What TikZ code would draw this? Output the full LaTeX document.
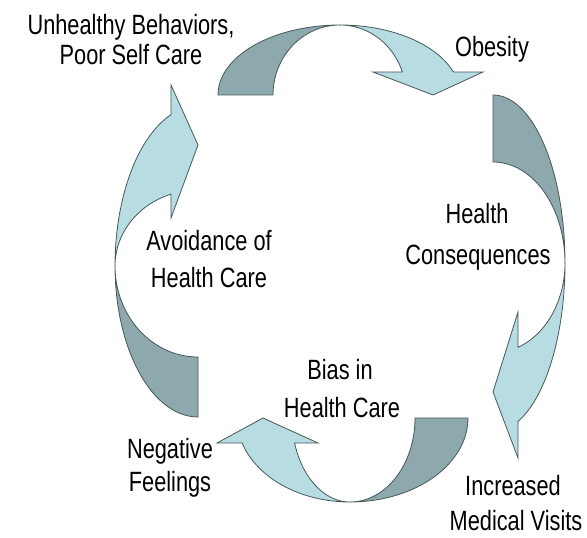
\documentclass[tikz,border=0pt]{standalone}
\usepackage{fontspec}
\setmainfont[FakeStretch=0.78]{Liberation Sans}
\definecolor{darkband}{RGB}{141,169,173}
\definecolor{lightband}{RGB}{183,221,227}
\definecolor{bandedge}{RGB}{72,88,90}
\tikzset{
  darkpart/.style={fill=darkband, draw=bandedge, line width=0.8bp, line join=round},
  lightpart/.style={fill=lightband, draw=bandedge, line width=0.8bp, line join=miter},
  lbl/.style={inner sep=0pt, anchor=base, font=\fontsize{28}{30}\selectfont}
}
% Twisted curved arrow in a local frame: x runs along the arrow, y points outward.
% #1 outer radius (back), #2 outer radius (front), #3 inner radius (back),
% #4 inner radius (front), #5 height, #6 head base height,
% #7 inner barb, #8 outer barb, #9 tip position
\newcommand\ribbonarrow[9]{%
  \pgfmathsetmacro\headang{asin(#6/#5)}%
  \filldraw[darkpart]
    plot[domain=180:90, samples=40, variable=\t] ({#1*cos(\t)},{#5*sin(\t)})
    -- plot[domain=90:180, samples=40, variable=\t] ({#3*cos(\t)},{#5*sin(\t)})
    -- cycle;
  \filldraw[lightpart]
    plot[domain=90:\headang, samples=40, variable=\t] ({#2*cos(\t)},{#5*sin(\t)})
    -- (#8,#6) -- (#9,0) -- (#7,#6)
    -- plot[domain=\headang:90, samples=40, variable=\t] ({#4*cos(\t)},{#5*sin(\t)})
    -- cycle;
}
\begin{document}
\begin{tikzpicture}[x=1bp, y=-1bp]
  \fill[white] (0,0) rectangle (587,538);
  \useasboundingbox (0,0) rectangle (587,538);

  % top arrow: left to right
  \begin{scope}[shift={(340,95)}, x={(1bp,0bp)}, y={(0bp,1bp)}]
    \ribbonarrow{122}{120}{67}{66}{70}{23}{33}{143}{93}
  \end{scope}
  % right arrow: top to bottom
  \begin{scope}[shift={(493,263)}, x={(0bp,-1bp)}, y={(1bp,0bp)}]
    \ribbonarrow{168}{169}{101}{90}{72}{25}{49}{195}{129}
  \end{scope}
  % bottom arrow: right to left
  \begin{scope}[shift={(350,418)}, x={(-1bp,0bp)}, y={(0bp,-1bp)}]
    \ribbonarrow{118}{113}{65}{58}{84}{25}{32}{133}{87}
  \end{scope}
  % left arrow: bottom to top
  \begin{scope}[shift={(198,266)}, x={(0bp,1bp)}, y={(-1bp,0bp)}]
    \ribbonarrow{151}{160}{91}{76}{83}{27}{48}{181}{121}
  \end{scope}

  % labels
  \node[lbl] (unhealthyA) at (131,35) {Unhealthy Behaviors,};
  \node[lbl] (unhealthyB) at (131,65) {Poor Self Care};
  \node[lbl] (obesity) at (492,57) {Obesity};
  \node[lbl] (consequA) at (477,224) {Health};
  \node[lbl] (consequB) at (478,264) {Consequences};
  \node[lbl] (visitsA) at (513,495) {Increased};
  \node[lbl] (visitsB) at (516,530) {Medical Visits};
  \node[lbl] (biasA) at (340,379) {Bias in};
  \node[lbl] (biasB) at (342,417) {Health Care};
  \node[lbl] (feelA) at (170,458) {Negative};
  \node[lbl] (feelB) at (170,491) {Feelings};
  \node[lbl] (avoidA) at (209,250) {Avoidance of};
  \node[lbl] (avoidB) at (209,287) {Health Care};
\end{tikzpicture}
\end{document}
